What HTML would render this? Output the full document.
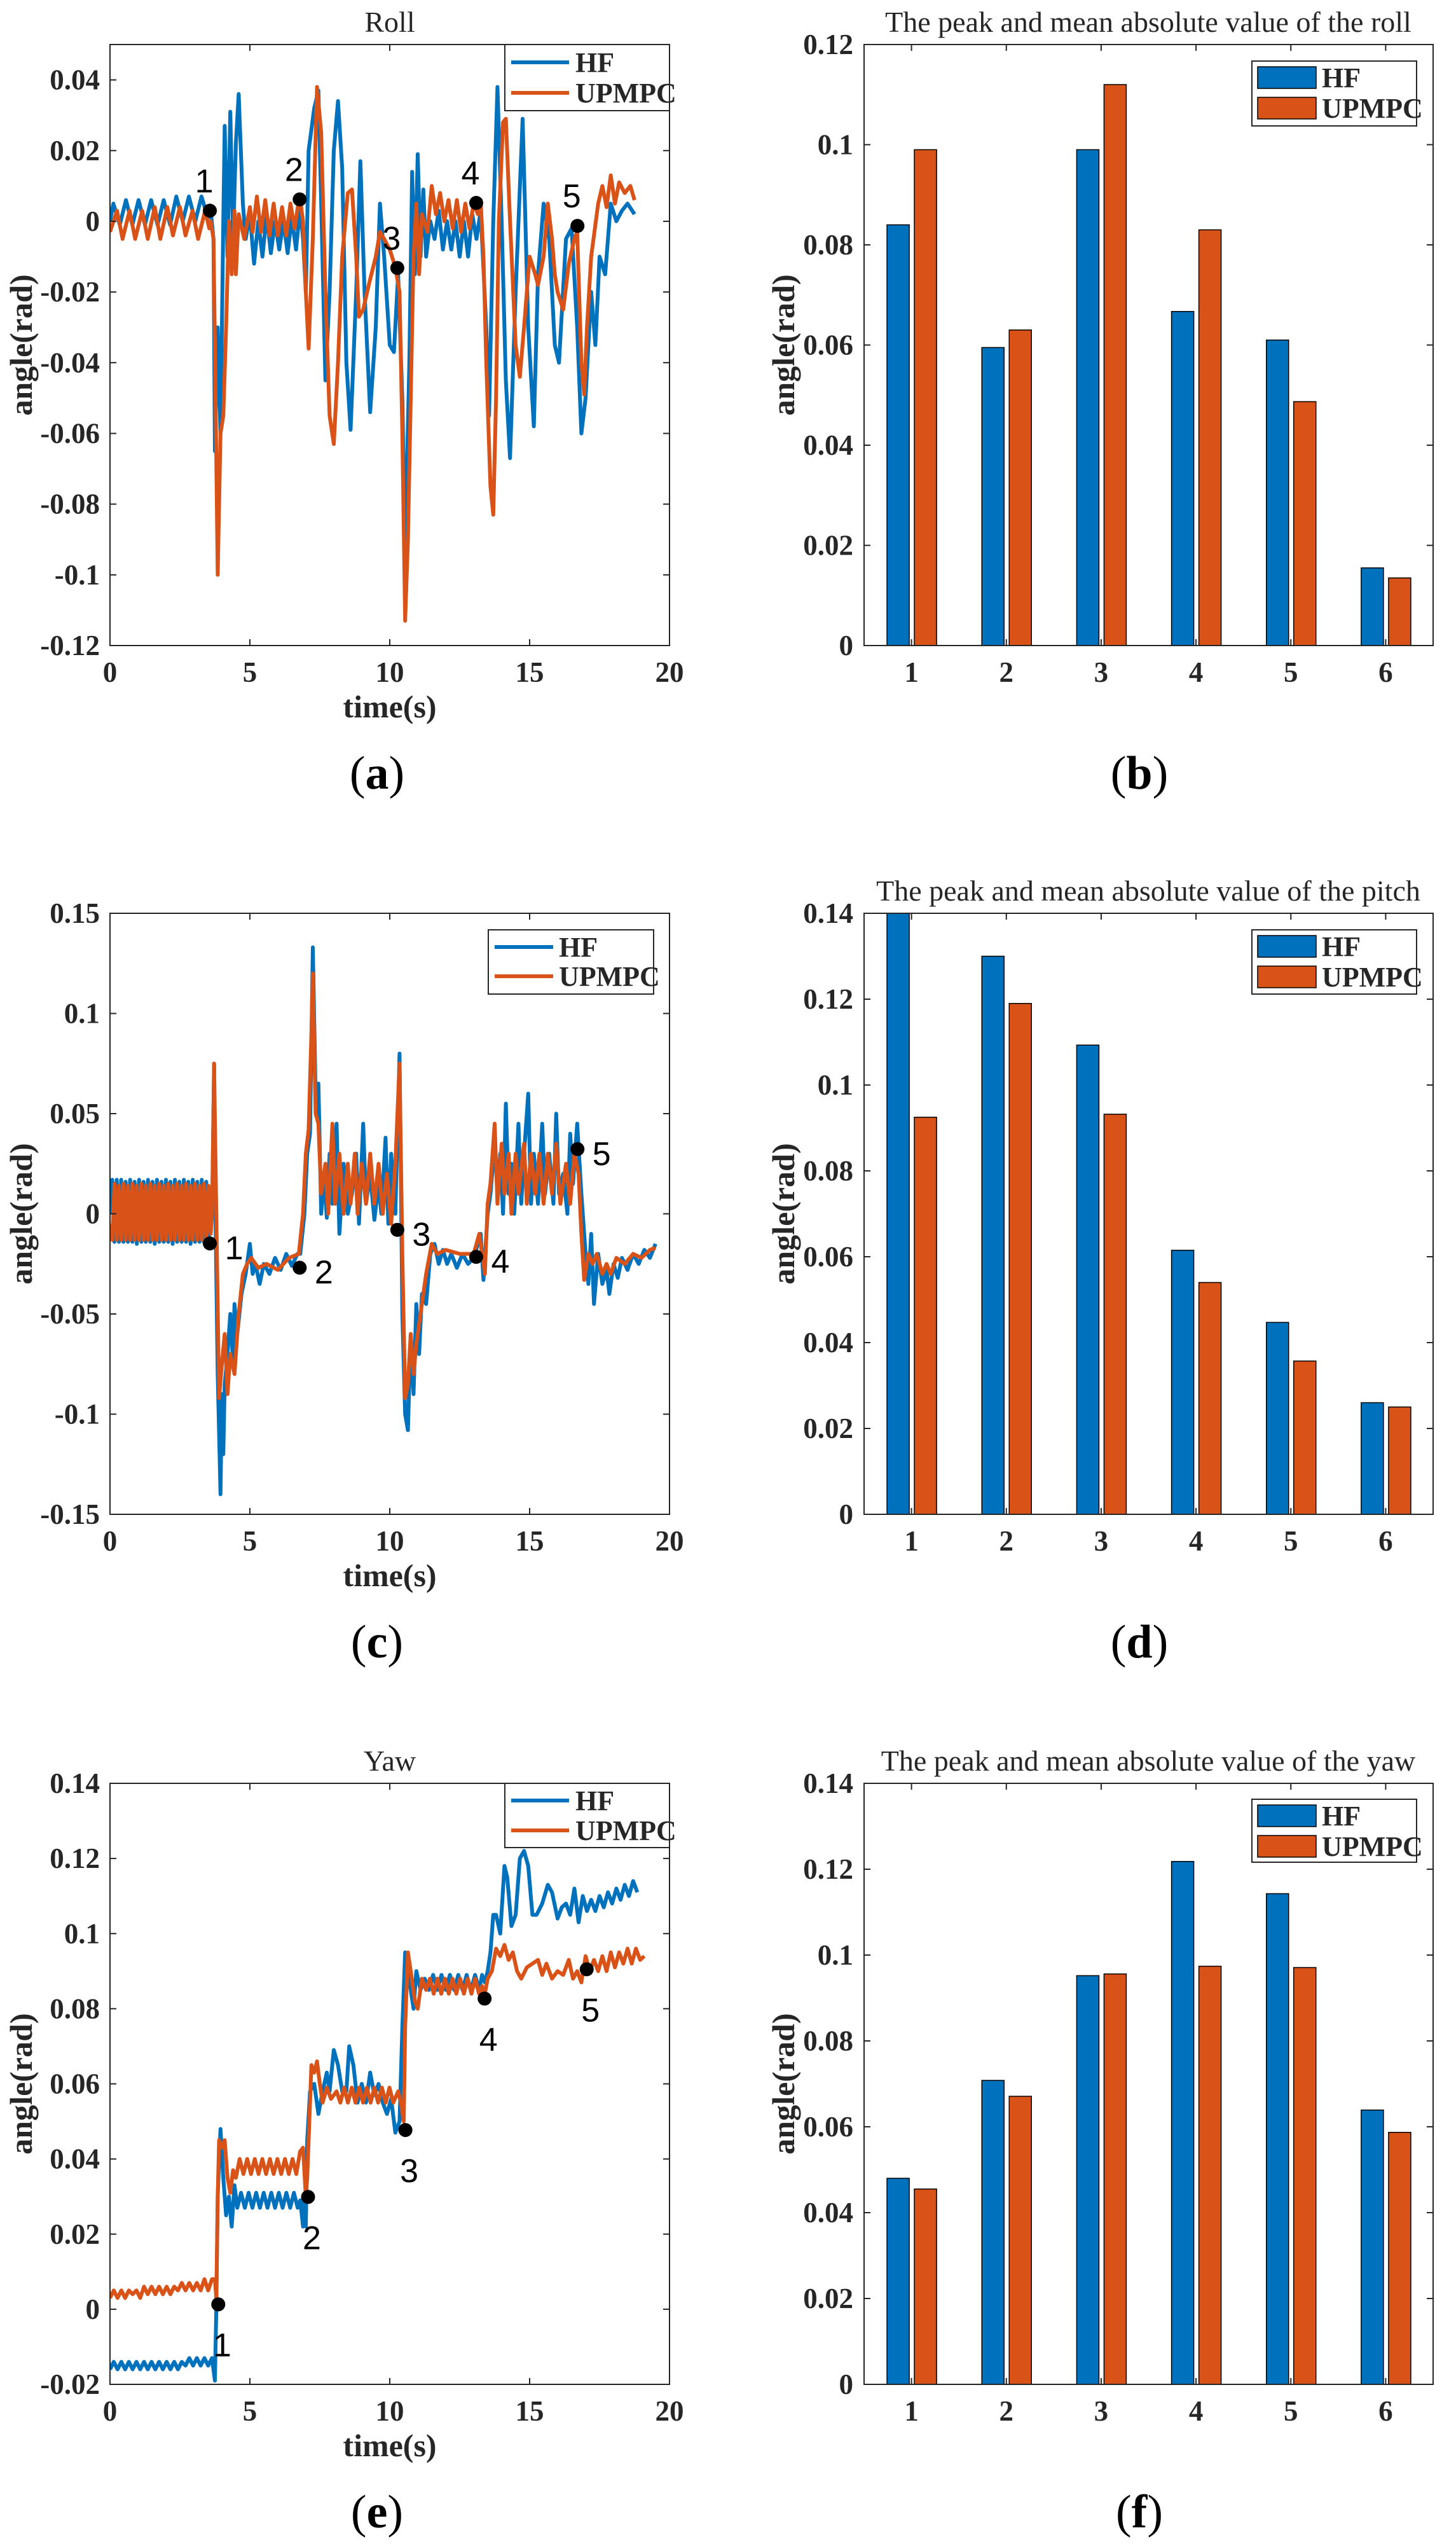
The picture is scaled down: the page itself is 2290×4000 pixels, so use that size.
<!DOCTYPE html>
<html><head><meta charset="utf-8"><style>
html,body{margin:0;padding:0;background:#fff;}
svg{display:block;}
</style></head><body>
<svg id="fig" xmlns="http://www.w3.org/2000/svg" width="2290" height="4000" viewBox="0 0 2290 4000"></svg>
<script>
// ===== Roll data =====
const rollT_HF=[0,0.12,0.35,0.57,0.8,1.02,1.25,1.47,1.7,1.92,2.15,2.37,2.6,2.82,3.05,3.27,3.5,3.6,3.7,3.75,3.85,3.95,4.05,4.1,4.2,4.3,4.4,4.5,4.6,4.75,4.85,5.0,5.15,5.3,5.45,5.6,5.75,5.9,6.05,6.2,6.35,6.5,6.65,6.8,6.9,7.0,7.1,7.3,7.45,7.55,7.7,7.85,8.0,8.15,8.3,8.45,8.6,8.8,8.95,9.1,9.3,9.5,9.65,9.8,10.0,10.15,10.3,10.45,10.55,10.7,10.8,10.9,11.0,11.1,11.2,11.3,11.45,11.6,11.75,11.9,12.05,12.2,12.35,12.5,12.65,12.8,12.95,13.1,13.25,13.45,13.55,13.7,13.85,14.0,14.15,14.3,14.5,14.75,14.95,15.15,15.3,15.5,15.7,15.9,16.05,16.3,16.5,16.7,16.85,17.0,17.2,17.35,17.5,17.7,17.9,18.1,18.3,18.5,18.75];
const rollV_HF=[0,0.005,-0.001,0.006,-0.001,0.006,-0.001,0.006,-0.001,0.006,-0.001,0.007,0,0.007,0,0.007,0.001,0.003,-0.005,-0.065,-0.03,-0.06,0,0.027,-0.01,0.031,-0.005,0.022,0.036,0.005,-0.005,0.002,-0.012,0,-0.01,0.002,-0.009,0,-0.008,0,-0.009,0.001,-0.008,0.004,-0.005,-0.02,0.02,0.032,0.037,0.005,-0.045,-0.02,0.02,0.034,0.015,-0.04,-0.059,-0.02,0.017,-0.02,-0.054,-0.03,0.005,-0.01,-0.035,-0.037,-0.015,-0.05,-0.093,-0.04,0.014,-0.015,0.019,-0.01,0.009,-0.01,0,-0.005,0.003,-0.008,0,-0.008,0,-0.01,0,-0.01,0.002,-0.005,0.003,-0.03,-0.055,0,0.038,0,-0.045,-0.067,-0.02,0.029,-0.03,-0.058,-0.015,0.005,-0.005,-0.035,-0.04,-0.005,-0.002,-0.03,-0.06,-0.05,-0.02,-0.035,-0.01,-0.015,0.005,0,0.003,0.005,0.002];
const rollT_UP=[0,0.25,0.45,0.7,0.9,1.15,1.35,1.6,1.8,2.05,2.25,2.5,2.7,2.95,3.15,3.4,3.55,3.6,3.7,3.75,3.85,3.95,4.05,4.15,4.25,4.35,4.45,4.5,4.6,4.8,5.0,5.1,5.25,5.4,5.55,5.7,5.85,6.0,6.15,6.3,6.45,6.6,6.75,6.8,6.9,7.0,7.1,7.25,7.4,7.55,7.7,7.85,8.0,8.15,8.3,8.5,8.65,8.8,8.9,9.05,9.25,9.5,9.65,9.8,10.0,10.2,10.35,10.45,10.55,10.65,10.75,10.85,10.95,11.05,11.15,11.35,11.5,11.65,11.8,11.95,12.1,12.25,12.4,12.55,12.7,12.85,13.0,13.15,13.25,13.35,13.45,13.6,13.7,13.8,13.9,14.05,14.15,14.3,14.5,14.65,14.8,15.0,15.2,15.3,15.5,15.65,15.8,15.9,16.0,16.2,16.4,16.6,16.7,16.85,16.95,17.05,17.2,17.45,17.6,17.75,17.9,18.05,18.2,18.4,18.6,18.75];
const rollV_UP=[-0.003,0.003,-0.005,0.003,-0.005,0.003,-0.005,0.004,-0.005,0.004,-0.004,0.004,-0.004,0.003,-0.005,0.003,-0.002,0,-0.005,-0.035,-0.1,-0.06,-0.055,-0.03,0,-0.015,0.003,-0.015,0.002,-0.005,0.004,-0.003,0.007,-0.003,0.006,-0.004,0.005,-0.004,0.004,-0.004,0.005,-0.002,0.006,0.006,0,-0.02,-0.036,-0.005,0.038,0.025,-0.02,-0.055,-0.063,-0.04,-0.01,0.008,0.009,-0.01,-0.027,-0.025,-0.018,-0.01,-0.003,-0.005,-0.008,-0.013,-0.02,-0.06,-0.113,-0.09,-0.05,-0.01,0.005,-0.015,0.002,-0.003,0.01,0.002,0.008,0,0.006,-0.002,0.006,-0.003,0.005,-0.002,0.005,0.002,0.006,-0.01,-0.04,-0.075,-0.083,-0.05,0,0.028,0.029,0,-0.035,-0.044,-0.03,-0.01,-0.015,-0.018,-0.01,0.005,-0.005,-0.015,-0.02,-0.025,-0.012,-0.005,-0.003,-0.04,-0.049,-0.03,-0.01,0.005,0.01,0.004,0.013,0.005,0.011,0.008,0.01,0.006];
const rollMarkT=[3.57,6.78,10.27,13.09,16.71];
const rollMarkV=[0.003,0.0062,-0.0132,0.0052,-0.0013];

// ===== Pitch data =====
const pitchT_HF=[0,0.08,0.16,0.24,0.32,0.4,0.48,0.56,0.64,0.72,0.8,0.88,0.96,1.04,1.12,1.2,1.28,1.36,1.44,1.52,1.6,1.68,1.76,1.84,1.92,2.0,2.08,2.16,2.24,2.32,2.4,2.48,2.56,2.64,2.72,2.8,2.88,2.96,3.04,3.12,3.2,3.28,3.36,3.44,3.52,3.6,3.65,3.72,3.78,3.85,3.95,4.0,4.05,4.1,4.2,4.3,4.4,4.45,4.55,4.7,4.85,5.0,5.1,5.2,5.35,5.5,5.7,5.9,6.1,6.3,6.5,6.7,6.8,6.95,7.05,7.15,7.25,7.35,7.45,7.55,7.65,7.75,7.85,7.95,8.1,8.2,8.35,8.5,8.65,8.8,8.9,9.05,9.15,9.3,9.45,9.6,9.7,9.85,9.95,10.05,10.2,10.35,10.45,10.55,10.65,10.75,10.85,10.95,11.05,11.15,11.3,11.45,11.6,11.75,11.9,12.05,12.2,12.4,12.6,12.8,13.0,13.15,13.25,13.35,13.5,13.6,13.75,13.85,13.95,14.05,14.15,14.25,14.35,14.45,14.6,14.7,14.8,14.95,15.05,15.15,15.3,15.45,15.55,15.7,15.85,15.95,16.05,16.2,16.35,16.45,16.55,16.7,16.85,17.0,17.1,17.2,17.3,17.45,17.6,17.75,17.85,18.0,18.15,18.3,18.5,18.7,18.9,19.1,19.3,19.5];
const pitchV_HF=[0,0.017,-0.014,0.017,-0.014,0.017,-0.014,0.016,-0.014,0.017,-0.014,0.016,-0.015,0.017,-0.014,0.016,-0.014,0.017,-0.014,0.016,-0.015,0.017,-0.014,0.016,-0.014,0.017,-0.014,0.016,-0.015,0.017,-0.014,0.016,-0.014,0.017,-0.014,0.016,-0.015,0.017,-0.014,0.016,-0.014,0.017,-0.014,0.016,-0.015,0.01,0,0.075,-0.01,-0.08,-0.14,-0.09,-0.12,-0.085,-0.07,-0.05,-0.075,-0.045,-0.06,-0.04,-0.03,-0.015,-0.03,-0.025,-0.035,-0.025,-0.03,-0.022,-0.028,-0.02,-0.026,-0.02,-0.02,0,0.03,0.04,0.133,0.06,0.065,0,0.02,-0.002,0.03,0.005,0.045,-0.01,0.025,0,0.01,0.03,-0.005,0.045,0.005,0.02,-0.003,0.015,0,0.038,-0.005,0.03,0,0.08,-0.05,-0.1,-0.108,-0.06,-0.09,-0.045,-0.07,-0.04,-0.045,-0.02,-0.015,-0.025,-0.018,-0.025,-0.02,-0.027,-0.02,-0.025,-0.022,-0.015,-0.01,-0.033,0,0.01,0.035,0.01,0.03,0,0.055,0.01,0.025,0,0.045,0.005,0.03,0.06,0.005,0.03,0.005,0.045,0.01,0.03,0.005,0.05,0.01,0.02,0,0.04,0.015,0.045,0.01,-0.02,-0.035,-0.01,-0.045,-0.02,-0.035,-0.028,-0.04,-0.025,-0.032,-0.022,-0.028,-0.02,-0.025,-0.018,-0.022,-0.015];
const pitchT_UP=[0,0.08,0.16,0.24,0.32,0.4,0.48,0.56,0.64,0.72,0.8,0.88,0.96,1.04,1.12,1.2,1.28,1.36,1.44,1.52,1.6,1.68,1.76,1.84,1.92,2.0,2.08,2.16,2.24,2.32,2.4,2.48,2.56,2.64,2.72,2.8,2.88,2.96,3.04,3.12,3.2,3.28,3.36,3.44,3.52,3.6,3.65,3.72,3.8,3.9,4.0,4.1,4.2,4.3,4.45,4.6,4.75,4.9,5.05,5.3,5.6,6.0,6.4,6.75,6.9,7.0,7.1,7.2,7.25,7.35,7.45,7.55,7.7,7.8,7.95,8.05,8.2,8.35,8.5,8.6,8.75,8.85,9.0,9.15,9.3,9.45,9.6,9.75,9.9,10.05,10.2,10.35,10.45,10.55,10.65,10.75,10.85,10.95,11.1,11.3,11.5,11.7,12.0,12.5,13.0,13.2,13.3,13.4,13.5,13.6,13.75,13.85,14.0,14.1,14.25,14.35,14.5,14.6,14.8,14.9,15.05,15.2,15.35,15.5,15.65,15.8,15.95,16.1,16.3,16.45,16.6,16.75,16.85,16.95,17.1,17.25,17.4,17.6,17.75,17.9,18.1,18.4,18.7,19.0,19.3,19.5];
const pitchV_UP=[-0.005,-0.013,0.015,-0.013,0.014,-0.013,0.015,-0.013,0.014,-0.013,0.015,-0.013,0.014,-0.013,0.015,-0.013,0.014,-0.013,0.015,-0.013,0.014,-0.013,0.015,-0.013,0.014,-0.013,0.015,-0.013,0.014,-0.013,0.015,-0.013,0.014,-0.013,0.015,-0.013,0.014,-0.013,0.015,-0.013,0.014,-0.013,0.015,-0.013,0.014,-0.01,0,0.075,0,-0.092,-0.075,-0.06,-0.09,-0.07,-0.08,-0.05,-0.03,-0.025,-0.022,-0.027,-0.025,-0.028,-0.022,-0.02,0,0.03,0.042,0.09,0.12,0.05,0.045,0.01,0.025,0,0.045,0.005,0.03,0,0.025,0.005,0.03,0,0.025,0.005,0.03,0.005,0.025,0,0.02,-0.005,0.025,0.075,-0.02,-0.092,-0.085,-0.06,-0.08,-0.065,-0.05,-0.03,-0.015,-0.02,-0.018,-0.02,-0.02,-0.01,-0.02,-0.03,0.005,0.015,0.045,0.005,0.035,0.01,0.03,0,0.03,0.01,0.035,0.005,0.03,0.01,0.03,0.005,0.03,0.01,0.035,0.005,0.025,0.005,0.03,0.02,-0.01,-0.033,-0.02,-0.025,-0.02,-0.03,-0.025,-0.03,-0.022,-0.025,-0.02,-0.022,-0.018,-0.017];
const pitchMarkT=[3.57,6.78,10.27,13.09,16.71];
const pitchMarkV=[-0.0148,-0.0269,-0.008,-0.0215,0.0323];

// ===== Yaw data =====
const yawT_HF=[0,0.135,0.27,0.405,0.54,0.675,0.81,0.945,1.08,1.215,1.35,1.485,1.62,1.755,1.89,2.025,2.16,2.295,2.43,2.565,2.7,2.835,2.97,3.105,3.24,3.375,3.51,3.645,3.75,3.8,3.85,3.95,4.05,4.15,4.25,4.35,4.45,4.55,4.685,4.82,4.955,5.09,5.225,5.36,5.495,5.63,5.765,5.9,6.035,6.17,6.305,6.44,6.575,6.71,6.8,6.9,6.95,7.0,7.05,7.15,7.3,7.45,7.6,7.75,7.85,8.0,8.15,8.3,8.45,8.55,8.7,8.85,9.0,9.15,9.3,9.45,9.6,9.75,9.9,10.05,10.2,10.35,10.45,10.55,10.65,10.75,10.85,10.95,11.1,11.25,11.4,11.55,11.7,11.85,12.0,12.15,12.3,12.45,12.6,12.75,12.9,13.05,13.2,13.3,13.4,13.5,13.6,13.7,13.8,13.95,14.1,14.2,14.35,14.5,14.65,14.8,14.95,15.1,15.25,15.45,15.65,15.8,16.0,16.15,16.3,16.45,16.6,16.75,16.9,17.05,17.2,17.35,17.5,17.65,17.8,17.95,18.1,18.25,18.4,18.55,18.7,18.85];
const yawV_HF=[-0.016,-0.014,-0.016,-0.014,-0.016,-0.014,-0.016,-0.014,-0.016,-0.014,-0.016,-0.014,-0.016,-0.014,-0.016,-0.014,-0.016,-0.014,-0.016,-0.014,-0.015,-0.013,-0.015,-0.013,-0.015,-0.013,-0.015,-0.013,-0.019,0,0.03,0.048,0.035,0.025,0.03,0.022,0.033,0.027,0.031,0.027,0.031,0.027,0.031,0.027,0.031,0.027,0.031,0.027,0.031,0.027,0.031,0.027,0.031,0.027,0.029,0.022,0.03,0.022,0.045,0.058,0.06,0.052,0.058,0.063,0.058,0.069,0.065,0.058,0.058,0.07,0.065,0.055,0.06,0.055,0.063,0.057,0.06,0.055,0.052,0.056,0.047,0.05,0.075,0.095,0.09,0.085,0.08,0.09,0.085,0.088,0.085,0.089,0.085,0.089,0.085,0.089,0.085,0.089,0.085,0.089,0.085,0.089,0.085,0.089,0.087,0.09,0.095,0.105,0.105,0.1,0.118,0.115,0.102,0.105,0.12,0.122,0.118,0.105,0.105,0.108,0.113,0.111,0.104,0.107,0.108,0.105,0.112,0.103,0.11,0.106,0.109,0.106,0.11,0.107,0.111,0.108,0.112,0.109,0.113,0.11,0.114,0.111,0.112];
const yawT_UP=[0,0.135,0.27,0.405,0.54,0.675,0.81,0.945,1.08,1.215,1.35,1.485,1.62,1.755,1.89,2.025,2.16,2.295,2.43,2.565,2.7,2.835,2.97,3.105,3.24,3.375,3.51,3.645,3.75,3.8,3.85,3.9,4.0,4.1,4.2,4.3,4.4,4.5,4.635,4.77,4.905,5.04,5.175,5.31,5.445,5.58,5.715,5.85,5.985,6.12,6.255,6.39,6.525,6.66,6.795,6.9,7.0,7.05,7.1,7.2,7.3,7.4,7.5,7.6,7.75,7.9,8.1,8.235,8.37,8.505,8.64,8.775,8.91,9.045,9.18,9.315,9.45,9.585,9.72,9.855,9.99,10.125,10.3,10.4,10.5,10.55,10.65,10.75,10.9,11.0,11.15,11.3,11.435,11.57,11.705,11.84,11.975,12.11,12.245,12.38,12.515,12.65,12.785,12.92,13.055,13.19,13.3,13.4,13.5,13.65,13.8,13.95,14.1,14.25,14.4,14.55,14.7,14.9,15.1,15.3,15.45,15.6,15.8,16.0,16.2,16.4,16.55,16.7,16.85,17.0,17.15,17.3,17.45,17.6,17.75,17.9,18.05,18.2,18.35,18.5,18.65,18.8,18.95,19.1];
const yawV_UP=[0.003,0.005,0.003,0.005,0.003,0.005,0.004,0.005,0.003,0.006,0.004,0.006,0.004,0.006,0.004,0.006,0.004,0.006,0.005,0.007,0.005,0.007,0.005,0.007,0.005,0.008,0.005,0.008,0.008,0.003,0.03,0.045,0.043,0.045,0.035,0.031,0.037,0.035,0.04,0.036,0.04,0.036,0.04,0.036,0.04,0.036,0.04,0.036,0.04,0.036,0.04,0.036,0.04,0.036,0.042,0.043,0.03,0.035,0.045,0.065,0.063,0.066,0.06,0.055,0.059,0.056,0.058,0.055,0.059,0.055,0.059,0.055,0.059,0.055,0.059,0.055,0.059,0.055,0.059,0.055,0.059,0.055,0.058,0.055,0.05,0.075,0.095,0.09,0.082,0.08,0.088,0.085,0.088,0.084,0.088,0.084,0.088,0.084,0.088,0.084,0.088,0.084,0.088,0.084,0.088,0.084,0.086,0.084,0.088,0.09,0.096,0.094,0.097,0.093,0.095,0.09,0.088,0.091,0.092,0.093,0.089,0.092,0.088,0.09,0.089,0.093,0.088,0.09,0.087,0.094,0.09,0.093,0.09,0.094,0.09,0.095,0.091,0.095,0.092,0.096,0.092,0.096,0.093,0.094];
const yawMarkT=[3.87,7.08,10.56,13.39,17.04];
const yawMarkV=[0.0013,0.0299,0.0477,0.0827,0.0905];

// ===== Bar data =====
const barCats=['1','2','3','4','5','6'];
const rollBarHF=[0.084,0.0595,0.099,0.0667,0.061,0.0155];
const rollBarUP=[0.099,0.063,0.112,0.083,0.0487,0.0135];
const pitchBarHF=[0.1405,0.13,0.1093,0.0615,0.0447,0.026];
const pitchBarUP=[0.0925,0.119,0.0932,0.054,0.0357,0.025];
const yawBarHF=[0.048,0.0708,0.0952,0.1218,0.1143,0.0639];
const yawBarUP=[0.0455,0.0671,0.0956,0.0974,0.0971,0.0587];

// ===== Tick labels =====
const timeTicks=[0,5,10,15,20];
const rollYTicks=[-0.12,-0.1,-0.08,-0.06,-0.04,-0.02,0,0.02,0.04];
const rollYLabels=['-0.12','-0.1','-0.08','-0.06','-0.04','-0.02','0','0.02','0.04'];
const pitchYTicks=[-0.15,-0.1,-0.05,0,0.05,0.1,0.15];
const pitchYLabels=['-0.15','-0.1','-0.05','0','0.05','0.1','0.15'];
const yawYTicks=[-0.02,0,0.02,0.04,0.06,0.08,0.1,0.12,0.14];
const yawYLabels=['-0.02','0','0.02','0.04','0.06','0.08','0.1','0.12','0.14'];
const bar12Ticks=[0,0.02,0.04,0.06,0.08,0.1,0.12];
const bar12Labels=['0','0.02','0.04','0.06','0.08','0.1','0.12'];
const bar14Ticks=[0,0.02,0.04,0.06,0.08,0.1,0.12,0.14];
const bar14Labels=['0','0.02','0.04','0.06','0.08','0.1','0.12','0.14'];

const NS='http://www.w3.org/2000/svg';
const svg=document.getElementById('fig');
const BLUE='#0072BD', ORANGE='#D95319', AX='#262626';
const SERIF='"Liberation Serif", "DejaVu Serif", serif';
const SANS='"Liberation Sans", "DejaVu Sans", sans-serif';

function mk(tag,attrs,parent){
  const e=document.createElementNS(NS,tag);
  for(const k in attrs) e.setAttribute(k,attrs[k]);
  (parent||svg).appendChild(e);
  return e;
}
function txt(parent,x,y,s,size,weight,anchor,font){
  const t=mk('text',{x:x,y:y,'font-size':size,'font-weight':weight,'text-anchor':anchor,'font-family':font||SERIF,fill:AX},parent);
  t.textContent=s;
  return t;
}

function axesFrame(g,x0,x1,y0,y1,xTickPx,yTickPx){
  const fr=mk('rect',{x:x0,y:y0,width:x1-x0,height:y1-y0,fill:'none',stroke:AX,'stroke-width':2},g);
  
  
  let d='';
  xTickPx.forEach(px=>{d+=`M${px},${y1}v-10M${px},${y0}v10`;});
  yTickPx.forEach(py=>{d+=`M${x0},${py}h10M${x1},${py}h-10`;});
  const tk=mk('path',{d:d,stroke:AX,'stroke-width':2,fill:'none'},g);
  
  
}

function linePanel(o){
  const g=mk('g',{});
  
  
  const x0=173,x1=1053,y0=70+o.off,y1=1015+o.off;
  const sx=t=>x0+(t-0)/(20-0)*(x1-x0);
  const sy=v=>y1-(v-o.ymin)/(o.ymax-o.ymin)*(y1-y0);
  if(o.title){
    const tt=txt(g,(x0+x1)/2,50+o.off,o.title,46,'normal','middle');
    
    
  }
  // series
  const clipId='clip'+o.name;
  const cp=mk('clipPath',{id:clipId},g);
  mk('rect',{x:x0,y:y0,width:x1-x0,height:y1-y0},cp);
  [[o.tHF,o.vHF,BLUE,'hf-line'],[o.tUP,o.vUP,ORANGE,'upmpc-line']].forEach(s=>{
    let d='';
    s[0].forEach((t,i)=>{d+=(i?'L':'M')+sx(t).toFixed(1)+','+sy(s[1][i]).toFixed(1);});
    const p=mk('path',{d:d,fill:'none',stroke:s[2],'stroke-width':6,'stroke-linejoin':'round','clip-path':`url(#${clipId})`},g);
    
    
  });
  axesFrame(g,x0,x1,y0,y1,timeTicks.map(sx),o.yTicks.map(sy));
  timeTicks.forEach(t=>{
    const l=txt(g,sx(t),1072+o.off,String(t),45,'bold','middle');
    
    
  });
  o.yTicks.forEach((v,i)=>{
    const l=txt(g,x0-16,sy(v)+15,o.yLabels[i],45,'bold','end');
    
    
  });
  const xl=txt(g,(x0+x1)/2,1128+o.off,'time(s)',50,'bold','middle');
  
  
  const yl=txt(g,0,0,'angle(rad)',50,'bold','middle');
  yl.setAttribute('transform',`translate(50,${(y0+y1)/2}) rotate(-90)`);
  
  
  // markers
  o.mT.forEach((t,i)=>{
    const c=mk('circle',{cx:sx(t),cy:sy(o.mV[i]),r:11,fill:'#000'},g);
    
    
    const l=txt(g,sx(t)+o.lab[0],sy(o.mV[i])+o.lab[1],String(i+1),52,'normal','middle',SANS);
    l.setAttribute('fill','#000');
    
    
  });
  // legend
  const L=o.leg;
  const lg=mk('g',{},g);
  
  
  mk('rect',{x:L.x0,y:L.y0+o.off,width:L.x1-L.x0,height:L.y1-L.y0,fill:'#fff',stroke:AX,'stroke-width':2},lg);
  [[BLUE,'HF',L.r1],[ORANGE,'UPMPC',L.r2]].forEach(e=>{
    const ln=mk('line',{x1:L.lx0,x2:L.lx1,y1:e[2]+o.off,y2:e[2]+o.off,stroke:e[0],'stroke-width':6},lg);
    
    
    const t=txt(lg,L.tx,e[2]+o.off+15,e[1],44,'bold','start');
    
    
  });
}

function barPanel(o){
  const g=mk('g',{});
  
  
  const x0=1359,x1=2254,y0=70+o.off,y1=1015+o.off;
  const sx=c=>x0+(c-0.5)/6*(x1-x0);
  const sy=v=>y1-(v-0)/(o.ymax-0)*(y1-y0);
  const tt=txt(g,1806,50+o.off,o.title,46,'normal','middle');
  
  
  const clipId='clip'+o.name;
  const cp=mk('clipPath',{id:clipId},g);
  mk('rect',{x:x0,y:y0,width:x1-x0,height:y1-y0},cp);
  barCats.forEach((c,i)=>{
    const cx=sx(i+1);
    [[o.hf[i],BLUE,-21,'bar-hf-'],[o.up[i],ORANGE,22,'bar-upmpc-']].forEach(b=>{
      const top=sy(b[0]);
      const r=mk('rect',{x:cx+b[2]-17.5,y:top,width:35,height:y1-top,fill:b[1],stroke:'#000','stroke-width':1.5,'clip-path':`url(#${clipId})`},g);
      
      
    });
  });
  axesFrame(g,x0,x1,y0,y1,barCats.map((c,i)=>sx(i+1)),o.yTicks.map(sy));
  barCats.forEach((c,i)=>{
    const l=txt(g,sx(i+1),1072+o.off,c,45,'bold','middle');
    
    
  });
  o.yTicks.forEach((v,i)=>{
    const l=txt(g,x0-17,sy(v)+15,o.yLabels[i],45,'bold','end');
    
    
  });
  const yl=txt(g,0,0,'angle(rad)',50,'bold','middle');
  yl.setAttribute('transform',`translate(1249,${(y0+y1)/2}) rotate(-90)`);
  
  
  const lg=mk('g',{},g);
  
  
  mk('rect',{x:1969,y:o.ly0+o.off,width:259,height:o.ly1-o.ly0,fill:'#fff',stroke:AX,'stroke-width':2},lg);
  [[BLUE,'HF',o.ly0+26],[ORANGE,'UPMPC',o.ly0+74]].forEach(e=>{
    const r=mk('rect',{x:1978,y:e[2]+o.off-17,width:92,height:34,fill:e[0],stroke:'#000','stroke-width':1.5},lg);
    
    
    const t=txt(lg,2079,e[2]+o.off+15,e[1],44,'bold','start');
    
    
  });
}

function caption(x,y,letter,name){
  const t=mk('text',{x:x,y:y,'font-size':74,'text-anchor':'middle','font-family':SERIF,fill:'#000'});
  t.innerHTML='(<tspan font-weight="bold">'+letter+'</tspan>)';
  
  
}

const legA={x0:794,x1:1053,y0:70,y1:174,lx0:804,lx1:895,tx:905,r1:98,r2:146};
const legC={x0:768,x1:1028,y0:96,y1:197,lx0:778,lx1:870,tx:879,r1:123,r2:169};
const legE={x0:794,x1:1053,y0:70,y1:171,lx0:804,lx1:895,tx:905,r1:97,r2:144};

linePanel({name:'roll-chart',off:0,title:'Roll',ymin:-0.12,ymax:0.05,yTicks:rollYTicks,yLabels:rollYLabels,
  tHF:rollT_HF,vHF:rollV_HF,tUP:rollT_UP,vUP:rollV_UP,mT:rollMarkT,mV:rollMarkV,lab:[-9,-29],leg:legA});
linePanel({name:'pitch-chart',off:1366,title:null,ymin:-0.15,ymax:0.15,yTicks:pitchYTicks,yLabels:pitchYLabels,
  tHF:pitchT_HF,vHF:pitchV_HF,tUP:pitchT_UP,vUP:pitchV_UP,mT:pitchMarkT,mV:pitchMarkV,lab:[38,25],leg:legC});
linePanel({name:'yaw-chart',off:2734,title:'Yaw',ymin:-0.02,ymax:0.14,yTicks:yawYTicks,yLabels:yawYLabels,
  tHF:yawT_HF,vHF:yawV_HF,tUP:yawT_UP,vUP:yawV_UP,mT:yawMarkT,mV:yawMarkV,lab:[6,82],leg:legE});

barPanel({name:'roll-bar-chart',off:0,title:'The peak and mean absolute value of the roll',ymax:0.12,yTicks:bar12Ticks,yLabels:bar12Labels,hf:rollBarHF,up:rollBarUP,ly0:96,ly1:198});
barPanel({name:'pitch-bar-chart',off:1366,title:'The peak and mean absolute value of the pitch',ymax:0.14,yTicks:bar14Ticks,yLabels:bar14Labels,hf:pitchBarHF,up:pitchBarUP,ly0:96,ly1:197});
barPanel({name:'yaw-bar-chart',off:2734,title:'The peak and mean absolute value of the yaw',ymax:0.14,yTicks:bar14Ticks,yLabels:bar14Labels,hf:yawBarHF,up:yawBarUP,ly0:95,ly1:194});

caption(593,1240,'a','caption-a');
caption(1792,1240,'b','caption-b');
caption(593,2606,'c','caption-c');
caption(1792,2606,'d','caption-d');
caption(593,3974,'e','caption-e');
caption(1792,3974,'f','caption-f');
</script>
</body></html>
